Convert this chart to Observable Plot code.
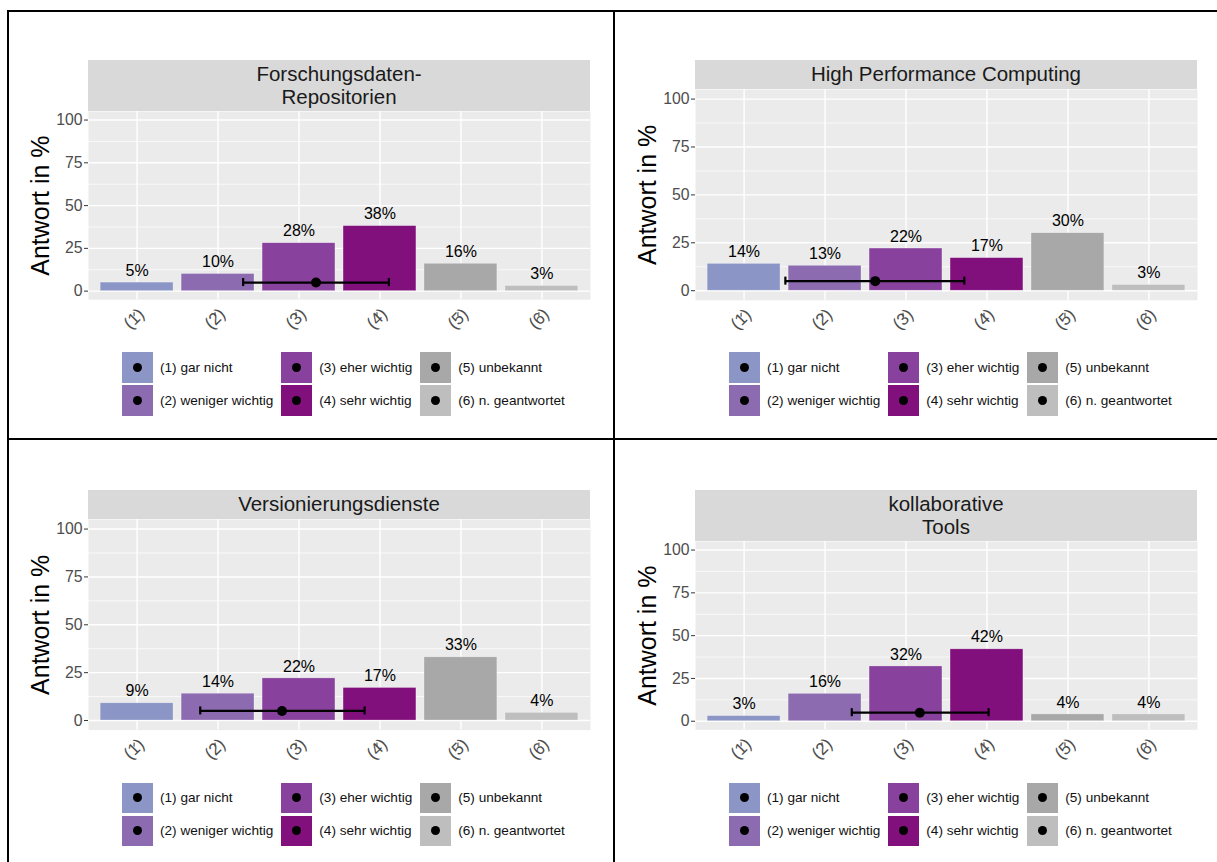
<!DOCTYPE html>
<html>
<head>
<meta charset="utf-8">
<script src="https://cdn.jsdelivr.net/npm/d3@7"></script>
<script src="https://cdn.jsdelivr.net/npm/@observablehq/plot@0.6"></script>
<style>
  html, body { margin: 0; padding: 0; background: #fff; }
  body { width: 1217px; height: 862px; overflow: hidden; position: relative;
         font-family: "Liberation Sans", Arial, sans-serif; }
  .line { position: absolute; background: #000; }
  .strip { position: absolute; background: #D9D9D9; color: #1A1A1A; display: flex;
           align-items: center; justify-content: center; text-align: center;
           font-size: 20.5px; line-height: 22.3px; white-space: pre-line; }
  .plotbox { position: absolute; }
  .plotbox svg { overflow: visible; display: block; }
  .legend { position: absolute; display: grid; grid-template-rows: 30.5px 30.5px;
            grid-auto-flow: column; row-gap: 2.5px; font-size: 13.6px; color: #111; }
  .item { display: flex; align-items: center; margin-right: 8px; white-space: nowrap; }
  .key { width: 31px; height: 30.5px; display: flex; align-items: center;
         justify-content: center; margin-right: 7px; flex: none; }
  .key span { width: 9px; height: 9px; border-radius: 50%; background: #000; }
</style>
</head>
<body>
<script>
// ---- data ----
const categories = ["(1)", "(2)", "(3)", "(4)", "(5)", "(6)"];
const legendLabels = ["(1) gar nicht", "(2) weniger wichtig", "(3) eher wichtig",
                      "(4) sehr wichtig", "(5) unbekannt", "(6) n. geantwortet"];
const colors = ["#8C96C6", "#8C6BB1", "#88419D", "#810F7C", "#A8A8A8", "#BEBEBE"];
const titles = ["Forschungsdaten-\nRepositorien", "High Performance Computing",
                "Versionierungsdienste", "kollaborative\nTools"];
const valuesRepositorien = [5, 10, 28, 38, 16, 3];
const valuesHPC = [14, 13, 22, 17, 30, 3];
const valuesVersionierung = [9, 14, 22, 17, 33, 4];
const valuesKollaborativ = [3, 16, 32, 42, 4, 4];
const meanValues = [3.21, 2.62, 2.79, 3.17];
const errLow = [2.31, 1.51, 1.78, 2.33];
const errHigh = [4.11, 3.72, 3.81, 4.02];
const meanY = 5;
const yTicks = [0, 25, 50, 75, 100];
const yMinor = [12.5, 37.5, 62.5, 87.5];
const yTitle = "Antwort in %";

const seriesValues = [valuesRepositorien, valuesHPC, valuesVersionierung, valuesKollaborativ];

// ---- layout (page pixels) ----
const layout = [
  {left: 88,  stripTop: 60,  stripH: 51,   panelTop: 111,   panelH: 188.2, legendTop: 352.3},
  {left: 695, stripTop: 60,  stripH: 28.6, panelTop: 88.6,  panelH: 210.8, legendTop: 352},
  {left: 88,  stripTop: 490, stripH: 29,   panelTop: 519,   panelH: 210.6, legendTop: 782.6},
  {left: 695, stripTop: 490, stripH: 51,   panelTop: 541,   panelH: 188.3, legendTop: 782.6}
];
const panelW = 502, mL = 80, mB = 45;

// table borders
function line(l, t, w, h) {
  const d = document.createElement("div");
  d.className = "line";
  Object.assign(d.style, {left: l + "px", top: t + "px", width: w + "px", height: h + "px"});
  document.body.appendChild(d);
}
line(7, 10, 1217 - 7, 2);
line(7, 10, 2, 862 - 10);
line(613, 10, 2, 862 - 10);
line(7, 438, 1217 - 7, 2);

seriesValues.forEach((vals, p) => {
  const L = layout[p];
  const data = vals.map((v, i) => ({i: i + 1, value: v, color: colors[i], cat: categories[i]}));
  const stat = [{mean: meanValues[p], lo: errLow[p], hi: errHigh[p]}];
  const pxPerUnit = L.panelH / 110;
  const capHalf = 4 / pxPerUnit;

  // facet strip
  const strip = document.createElement("div");
  strip.className = "strip";
  Object.assign(strip.style, {left: L.left + "px", top: L.stripTop + "px",
                              width: panelW + "px", height: L.stripH + "px"});
  strip.textContent = titles[p];
  document.body.appendChild(strip);

  const chart = Plot.plot({
    width: panelW + mL + 2,
    height: L.panelH + mB,
    marginLeft: mL, marginRight: 2, marginTop: 0, marginBottom: mB,
    style: {fontFamily: '"Liberation Sans", Arial, sans-serif', background: "transparent", overflow: "visible"},
    x: {domain: [0.4, 6.6]},
    y: {domain: [-5, 105]},
    marks: [
      Plot.frame({fill: "#EBEBEB", stroke: "none"}),
      Plot.gridY(yMinor, {stroke: "#fff", strokeOpacity: 1, strokeWidth: 0.7}),
      Plot.gridY(yTicks, {stroke: "#fff", strokeOpacity: 1, strokeWidth: 1.4}),
      Plot.gridX([1, 2, 3, 4, 5, 6], {stroke: "#fff", strokeOpacity: 1, strokeWidth: 1.4}),
      Plot.rectY(data, {x1: d => d.i - 0.45, x2: d => d.i + 0.45, y1: 0, y2: "value",
                        fill: "color", stroke: "#fff", strokeOpacity: 0.45, strokeWidth: 0.6}),
      Plot.text(data, {x: "i", y: "value", text: d => d.value + "%", dy: -12,
                       fontSize: 16, fill: "#000"}),
      Plot.ruleY(stat, {x1: "lo", x2: "hi", y: meanY, stroke: "#000", strokeWidth: 2.2}),
      Plot.ruleX(stat, {x: "lo", y1: meanY - capHalf, y2: meanY + capHalf, stroke: "#000", strokeWidth: 2.2}),
      Plot.ruleX(stat, {x: "hi", y1: meanY - capHalf, y2: meanY + capHalf, stroke: "#000", strokeWidth: 2.2}),
      Plot.dot(stat, {x: "mean", y: meanY, r: 5, fill: "#000"}),
      Plot.axisY(yTicks, {tickSize: 4, tickPadding: 2, fontSize: 15.8, stroke: "#333",
                          fill: "#4D4D4D", label: null}),
      Plot.axisY({ticks: [], label: yTitle, labelAnchor: "center", labelArrow: "none",
                  labelOffset: 57, fontSize: 25, fill: "#000"}),
      Plot.axisX([1, 2, 3, 4, 5, 6], {tickFormat: d => categories[d - 1], tickRotate: -45,
                  textAnchor: "middle", lineAnchor: "middle", tickSize: 4, tickPadding: 2,
                  dy: 13, dx: -3, fontSize: 17, stroke: "#333", fill: "#4D4D4D", label: null})
    ]
  });
  const box = document.createElement("div");
  box.className = "plotbox";
  Object.assign(box.style, {left: (L.left - mL) + "px", top: L.panelTop + "px"});
  box.appendChild(chart);
  document.body.appendChild(box);

  // legend
  const leg = document.createElement("div");
  leg.className = "legend";
  Object.assign(leg.style, {left: (L.left + 34) + "px", top: L.legendTop + "px"});
  legendLabels.forEach((lab, i) => {
    const it = document.createElement("div");
    it.className = "item";
    const k = document.createElement("div");
    k.className = "key";
    k.style.background = colors[i];
    k.appendChild(document.createElement("span"));
    const t = document.createElement("div");
    t.textContent = lab;
    it.appendChild(k); it.appendChild(t);
    leg.appendChild(it);
  });
  document.body.appendChild(leg);
});
</script>
</body>
</html>
